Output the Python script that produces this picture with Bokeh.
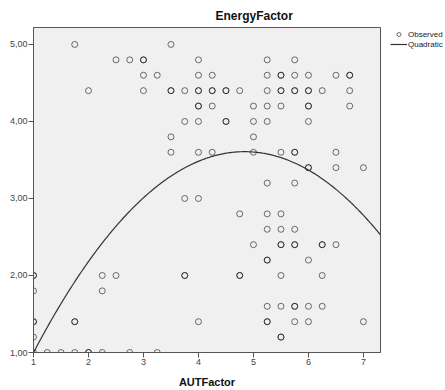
import numpy as np
from bokeh.plotting import figure
from bokeh.models import Range1d, FixedTicker, Legend, LegendItem, ColumnDataSource
from bokeh.embed import file_html
from bokeh.resources import INLINE

# Observed cases (repeated pairs are coincident cases that draw darker)
obs_y_levels = [5.0, 4.8, 4.6, 4.4, 4.2, 4.0, 3.8, 3.6, 3.4, 3.2, 3.0,
                2.8, 2.6, 2.4, 2.2, 2.0, 1.8, 1.6, 1.4, 1.2, 1.0]
obs_x_by_level = [
    [1.75, 3.5],
    [2.5, 2.75, 3.0, 3.0, 4.0, 5.25, 5.75],
    [3.0, 3.25, 4.0, 4.25, 5.25, 5.5, 5.5, 5.75, 6.0, 6.5, 6.75, 6.75],
    [2.0, 3.0, 3.5, 3.5, 3.75, 4.0, 4.0, 4.25, 4.25, 4.5, 4.5, 4.75, 5.25,
     5.5, 5.5, 5.75, 5.75, 6.0, 6.0, 6.25, 6.75],
    [4.0, 4.0, 4.25, 5.0, 5.25, 5.5, 6.0, 6.0, 6.75],
    [3.75, 4.0, 4.5, 4.5, 5.0, 5.25, 6.0],
    [3.5, 5.0],
    [3.5, 4.0, 4.25, 5.0, 5.5, 5.75, 5.75, 6.5],
    [6.0, 6.0, 6.5, 7.0],
    [5.25, 5.75],
    [3.75, 4.0],
    [4.75, 5.25, 5.5],
    [5.25, 5.5, 5.75],
    [5.0, 5.5, 5.5, 5.75, 5.75, 6.25, 6.25, 6.5],
    [5.25, 5.25, 6.0],
    [1.0, 1.0, 2.25, 2.5, 3.75, 3.75, 4.75, 4.75, 5.5, 6.25],
    [1.0, 2.25],
    [5.25, 5.5, 5.75, 5.75, 6.0, 6.25],
    [1.0, 1.0, 1.75, 1.75, 4.0, 5.25, 5.25, 5.75, 6.0, 7.0],
    [1.0, 5.5, 5.5],
    [1.0, 1.25, 1.5, 1.75, 2.0, 2.0, 2.25, 2.75, 3.25],
]

# Quadratic fit: EnergyFactor = b0 + b1*AUT + b2*AUT^2
quad_b0 = -0.537
quad_b1 = 1.713
quad_b2 = -0.177

x_ticks = [1, 2, 3, 4, 5, 6, 7]
y_ticks = [1, 2, 3, 4, 5]
y_tick_labels = ["1,00", "2,00", "3,00", "4,00", "5,00"]

obs_x, obs_y = [], []
for yl, xs in zip(obs_y_levels, obs_x_by_level):
    obs_x.extend(xs)
    obs_y.extend([yl] * len(xs))

X_MIN, X_MAX = 1.0, 7.31
Y_MIN, Y_MAX = 1.0, 5.22

p = figure(frame_width=347, frame_height=325, output_backend="svg",
           toolbar_location=None,
           x_range=Range1d(X_MIN, X_MAX), y_range=Range1d(Y_MIN, Y_MAX),
           min_border_left=33, min_border_right=0, min_border_top=27,
           min_border_bottom=38)

p.background_fill_color = "#f0f0f0"
p.border_fill_color = "white"
p.outline_line_color = "#555555"
p.outline_line_width = 1
p.xgrid.visible = False
p.ygrid.visible = False

p.title.text = "EnergyFactor"
p.title.text_font = "Liberation Sans"
p.title.text_font_size = "12px"
p.title.text_font_style = "bold"
p.title.align = "left"
p.title.offset = 182
p.title.text_color = "#111111"

src = ColumnDataSource(dict(x=obs_x, y=obs_y))
r_obs = p.scatter("x", "y", source=src, marker="circle", size=6,
                  fill_color=None, line_color="black", line_alpha=0.55,
                  line_width=1)

cx = np.linspace(X_MIN, X_MAX, 300)
cy = quad_b0 + quad_b1 * cx + quad_b2 * cx ** 2
r_fit = p.line(cx, cy, line_color="#333333", line_width=1.2)

for ax in (p.xaxis[0], p.yaxis[0]):
    ax.axis_line_color = "#555555"
    ax.major_tick_line_color = "#555555"
    ax.major_tick_out = 5
    ax.major_tick_in = 0
    ax.minor_tick_line_color = None
    ax.major_label_text_font = "Liberation Sans"
    ax.major_label_text_font_size = "9px"
    ax.major_label_text_color = "#444444"
    ax.axis_label_text_font = "Liberation Sans"
    ax.axis_label_text_font_style = "bold"
    ax.axis_label_text_font_size = "11px"
    ax.axis_label_text_color = "#111111"

p.xaxis.ticker = FixedTicker(ticks=x_ticks)
p.yaxis.ticker = FixedTicker(ticks=y_ticks)
p.yaxis.major_label_overrides = {t: s for t, s in zip(y_ticks, y_tick_labels)}
p.xaxis.major_label_standoff = 1
p.yaxis.major_label_standoff = 1
p.xaxis.axis_label = "AUTFactor"
p.xaxis.axis_label_standoff = 8

legend = Legend(items=[LegendItem(label="Observed", renderers=[r_obs]),
                       LegendItem(label="Quadratic", renderers=[r_fit])],
                location=(10, 303), orientation="vertical",
                background_fill_alpha=0, border_line_color=None,
                glyph_width=17, glyph_height=10, label_height=10,
                label_standoff=1, spacing=0, padding=0, margin=0,
                label_text_font="Liberation Sans", label_text_font_size="8px",
                label_text_color="#222222")
p.add_layout(legend, "right")

open("out.html", "w").write(file_html(p, INLINE))
